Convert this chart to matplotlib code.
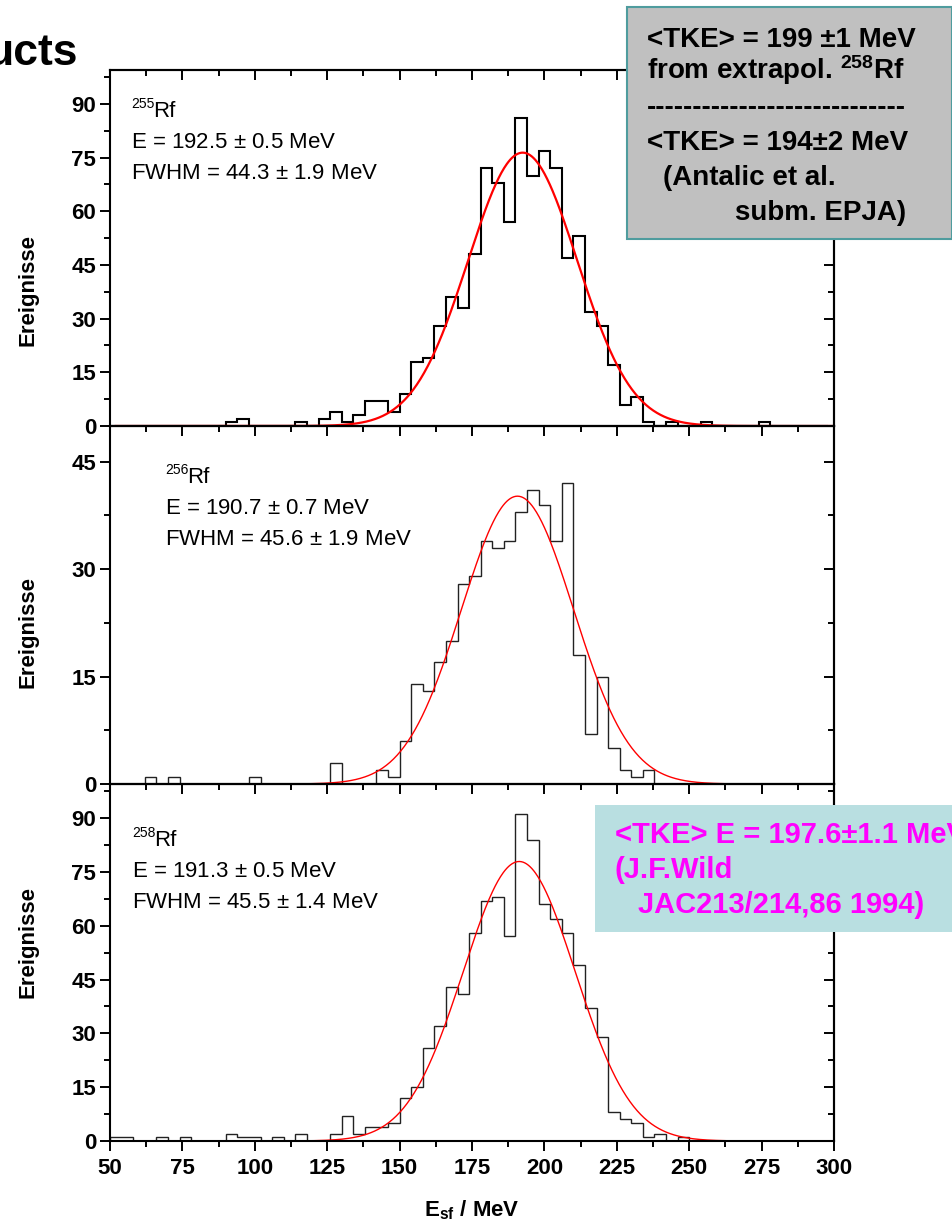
import numpy as np
import matplotlib
matplotlib.use('Agg')
import matplotlib.pyplot as plt
from matplotlib.ticker import MultipleLocator
from matplotlib.patches import Rectangle

plt.rcParams['font.family'] = 'Liberation Sans'
plt.rcParams['mathtext.fontset'] = 'custom'
plt.rcParams['mathtext.rm'] = 'Liberation Sans'
plt.rcParams['mathtext.bf'] = 'Liberation Sans:bold'
plt.rcParams['mathtext.default'] = 'regular'

# histogram bins: 4 MeV wide, starting at 50 MeV
bin_start = 50
bin_width = 4
n_bins = 62

counts_255 = [0, 0, 0, 0, 0, 0, 0, 0, 0, 0,
              1, 2, 0, 0, 0, 0, 1, 0, 2, 4,
              1, 3, 7, 7, 4, 9, 18, 19, 28, 36,
              33, 48, 72, 68, 57, 86, 70, 77, 72, 47,
              53, 32, 28, 17, 6, 8, 1, 0, 1, 0,
              0, 1, 0, 0, 0, 0, 1, 0, 0, 0,
              0, 0]
counts_256 = [0, 0, 0, 1, 0, 1, 0, 0, 0, 0,
              0, 0, 1, 0, 0, 0, 0, 0, 0, 3,
              0, 0, 0, 2, 1, 6, 14, 13, 17, 20,
              28, 29, 34, 33, 34, 38, 41, 39, 34, 42,
              18, 7, 15, 5, 2, 1, 2, 0, 0, 0,
              0, 0, 0, 0, 0, 0, 0, 0, 0, 0,
              0, 0]
counts_258 = [1, 1, 0, 0, 1, 0, 1, 0, 0, 0,
              2, 1, 1, 0, 1, 0, 2, 0, 0, 2,
              7, 2, 4, 4, 5, 12, 15, 26, 32, 43,
              41, 58, 67, 68, 57, 91, 84, 66, 62, 58,
              49, 37, 29, 8, 6, 5, 1, 2, 0, 1,
              0, 0, 0, 0, 0, 0, 0, 0, 0, 0,
              0, 0]

# gaussian fit parameters (centre, FWHM, amplitude)
fit_255 = (192.5, 44.3, 76.4)
fit_256 = (190.7, 45.6, 40.2)
fit_258 = (191.3, 45.5, 77.9)

labels_iso = ['255', '256', '258']
labels_E = [r'E = 192.5 $\pm$ 0.5 MeV', r'E = 190.7 $\pm$ 0.7 MeV', r'E = 191.3 $\pm$ 0.5 MeV']
labels_fwhm = [r'FWHM = 44.3 $\pm$ 1.9 MeV', r'FWHM = 45.6 $\pm$ 1.9 MeV', r'FWHM = 45.5 $\pm$ 1.4 MeV']

xticks = [50, 75, 100, 125, 150, 175, 200, 225, 250, 275, 300]

W, H = 953, 1225
fig = plt.figure(figsize=(W / 100, H / 100), dpi=100)


def fx(x):
    return x / W


def fy(y):
    return 1 - y / H


edges = bin_start + bin_width * np.arange(n_bins + 1)
xfit = np.linspace(52, 300, 800)

tops = [70, 426, 784]
bots = [426, 784, 1141]
ymax = [99.5, 50, 99.5]
yticks = [[0, 15, 30, 45, 60, 75, 90], [0, 15, 30, 45], [0, 15, 30, 45, 60, 75, 90]]
allcounts = [counts_255, counts_256, counts_258]
fits = [fit_255, fit_256, fit_258]
hist_lw = [1.5, 1.0, 1.0]
hist_col = ['black', '#222222', '#222222']
fit_lw = [1.6, 1.0, 1.0]
txt_x = [131, 165, 132]
txt_y = [117, 483, 846]
ylab_y = [290, 632, 942]

axes = []
for i in range(3):
    ax = fig.add_axes([fx(110), fy(bots[i]), fx(834) - fx(110), (bots[i] - tops[i]) / H])
    ax.set_facecolor('none')
    ax.stairs(allcounts[i], edges, color=hist_col[i], linewidth=hist_lw[i])
    c, fwhm, amp = fits[i]
    sig = fwhm / 2.3548
    ax.plot(xfit, amp * np.exp(-(xfit - c) ** 2 / (2 * sig ** 2)), color='red', linewidth=fit_lw[i])
    ax.set_xlim(50, 300)
    ax.set_ylim(0, ymax[i])
    ax.set_xticks(xticks)
    ax.xaxis.set_minor_locator(MultipleLocator(12.5))
    ax.set_yticks(yticks[i])
    ax.yaxis.set_minor_locator(MultipleLocator(7.5))
    for s in ax.spines.values():
        s.set_linewidth(1.5)
    ax.tick_params(which='both', direction='out', width=1.4, labelsize=16, pad=3)
    ax.tick_params(which='major', length=7)
    ax.tick_params(which='minor', length=4)
    for lab in ax.get_xticklabels() + ax.get_yticklabels():
        lab.set_fontweight('bold')
    if i < 2:
        ax.tick_params(axis='x', which='both', bottom=False, labelbottom=False)
    else:
        ax.tick_params(axis='x', pad=5)

    top = ax.secondary_xaxis('top')
    top.set_xticks(xticks)
    top.xaxis.set_minor_locator(MultipleLocator(12.5))
    top.tick_params(which='both', direction='in', width=1.4, labeltop=False)
    top.tick_params(which='major', length=7)
    top.tick_params(which='minor', length=4)
    top.spines['top'].set_linewidth(1.5)

    right = ax.secondary_yaxis('right')
    right.set_yticks(yticks[i])
    right.yaxis.set_minor_locator(MultipleLocator(7.5))
    right.tick_params(which='both', direction='in', width=1.4, labelright=False)
    right.tick_params(which='major', length=7)
    right.tick_params(which='minor', length=4)
    right.spines['right'].set_linewidth(1.5)

    # isotope and fit results
    fig.text(fx(txt_x[i]), fy(txt_y[i] - 9), labels_iso[i], fontsize=10, va='baseline', ha='left')
    fig.text(fx(txt_x[i] + 22), fy(txt_y[i]), 'Rf', fontsize=16, va='baseline', ha='left')
    fig.text(fx(txt_x[i]), fy(txt_y[i] + 31), labels_E[i], fontsize=16, va='baseline', ha='left')
    fig.text(fx(txt_x[i]), fy(txt_y[i] + 62), labels_fwhm[i], fontsize=16, va='baseline', ha='left')

    fig.text(fx(28), fy(ylab_y[i]), 'Ereignisse', rotation=90, ha='center', va='center',
             fontsize=16, fontweight='bold')
    axes.append(ax)

fig.text(fx(472), fy(1210), r'E$_{\mathbf{sf}}$ / MeV', ha='center', va='center',
         fontsize=16, fontweight='bold')

# cut-off slide title
fig.text(fx(78), fy(65), 'ucts', ha='right', va='baseline', fontsize=32, fontweight='bold')

# grey info box
fig.patches.append(Rectangle((fx(627), fy(239)), fx(952) - fx(627), (239 - 7) / H,
                             transform=fig.transFigure, facecolor='#c0c0c0',
                             edgecolor='#4f9c9e', linewidth=1.5, zorder=5))
gray_lines = [(647, 47, '<TKE> = 199 \u00b11 MeV'),
              (647, 79, r'from extrapol. $^{258}$Rf'),
              (647, 115, '-' * 28),
              (647, 150, '<TKE> = 194\u00b12 MeV'),
              (663, 185, '(Antalic et al.'),
              (735, 220, 'subm. EPJA)')]
for x, y, s in gray_lines:
    fig.text(fx(x), fy(y), s, fontsize=20, fontweight='bold', va='baseline', ha='left', zorder=6)

# light blue info box
fig.patches.append(Rectangle((fx(595), fy(932)), fx(960) - fx(595), (932 - 805) / H,
                             transform=fig.transFigure, facecolor='#b9dfe1',
                             edgecolor='none', zorder=5))
blue_lines = [(615, 843, '<TKE> E = 197.6\u00b11.1 MeV'),
              (615, 878, '(J.F.Wild'),
              (638, 913, 'JAC213/214,86 1994)')]
for x, y, s in blue_lines:
    fig.text(fx(x), fy(y), s, fontsize=21, fontweight='bold', color='#ff00ff',
             va='baseline', ha='left', zorder=6)

fig.savefig('out.png', dpi=100)
